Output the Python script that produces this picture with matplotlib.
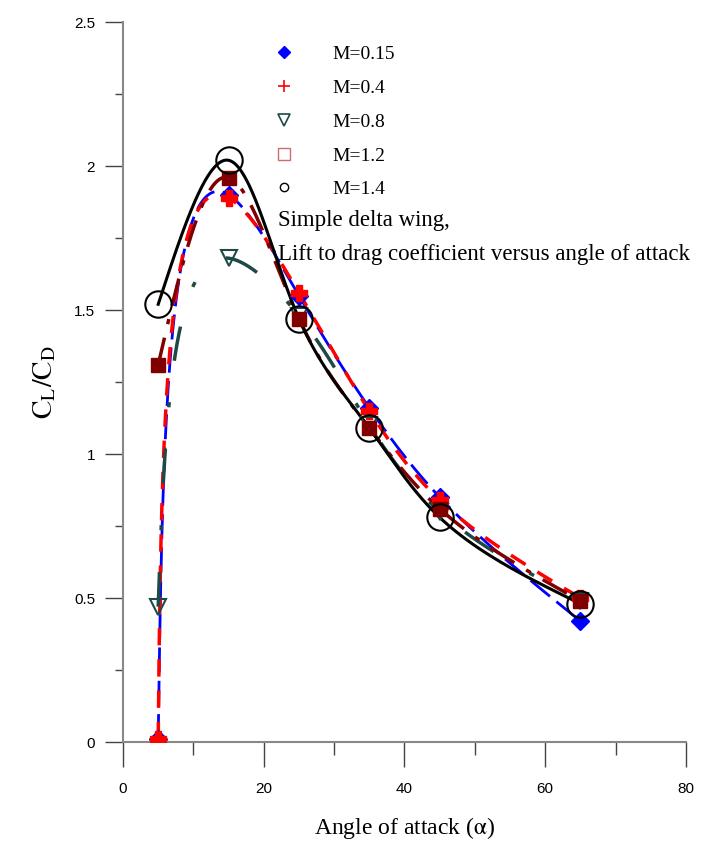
import numpy as np
import matplotlib
matplotlib.use("Agg")
import matplotlib.pyplot as plt
from matplotlib.lines import Line2D
from matplotlib.ticker import MultipleLocator

# Data
# -----------------------------------------------------------------------------

alpha = [5, 15, 25, 35, 45, 65]
mach_labels = ["M=0.15", "M=0.4", "M=0.8", "M=1.2", "M=1.4"]
cl_cd_m015 = [0.01, 1.90, 1.55, 1.16, 0.85, 0.42]
cl_cd_m04 = [0.01, 1.89, 1.56, 1.15, 0.84, 0.50]
cl_cd_m08 = [0.47, 1.68, 1.48, 1.10, 0.80, 0.49]
cl_cd_m12 = [1.31, 1.96, 1.47, 1.09, 0.81, 0.49]
cl_cd_m14 = [1.52, 2.02, 1.47, 1.09, 0.78, 0.48]


# Functions
# -----------------------------------------------------------------------------

def natural_spline(t, y, t_new):
    """Natural cubic spline of y(t), evaluated at t_new."""
    t = np.asarray(t, float)
    y = np.asarray(y, float)
    n = len(t)
    h = np.diff(t)
    a = np.zeros((n, n))
    b = np.zeros(n)
    a[0, 0] = 1.0
    a[-1, -1] = 1.0
    for i in range(1, n-1):
        a[i, i-1] = h[i-1]
        a[i, i] = 2*(h[i-1]+h[i])
        a[i, i+1] = h[i]
        b[i] = 6*((y[i+1]-y[i])/h[i] - (y[i]-y[i-1])/h[i-1])
    m2 = np.linalg.solve(a, b)
    idx = np.clip(np.searchsorted(t, t_new) - 1, 0, n-2)
    t0, t1 = t[idx], t[idx+1]
    hh = t1 - t0
    u0 = t1 - t_new
    u1 = t_new - t0
    return (m2[idx]*u0**3/(6*hh) + m2[idx+1]*u1**3/(6*hh)
            + (y[idx]/hh - m2[idx]*hh/6)*u0
            + (y[idx+1]/hh - m2[idx+1]*hh/6)*u1)


def smooth_curve(x, y):
    # parametric spline in screen-like units
    xs = np.asarray(x, float) / 80.0 * 563
    ys = np.asarray(y, float) / 2.5 * 720
    d = np.hypot(np.diff(xs), np.diff(ys)) ** 0.75
    t = np.concatenate([[0], np.cumsum(d)])
    tt = np.linspace(0, t[-1], 500)
    return natural_spline(t, x, tt), natural_spline(t, y, tt)


# Plot
# -----------------------------------------------------------------------------

plt.rcParams["font.family"] = ["Liberation Serif", "DejaVu Serif"]
plt.rcParams["mathtext.fontset"] = "stix"

fig = plt.figure(figsize=(7.01, 8.48), dpi=100)
ax = fig.add_axes([0.1755, 0.125, 0.803, 0.849])

dark_slate = "#1e4a45"
dark_red = "#800000"

series = [
    (cl_cd_m015, "blue", (0, (9, 3)), 2.0, "D", 9, "blue", "blue", 1),
    (cl_cd_m04, "red", (0, (5, 4)), 2.5, "P", 12, "red", "red", 1),
    (cl_cd_m08, dark_slate, (0, (10, 12, 1.5, 12)), 2.5, "v", 11, "none", dark_slate, 1.5),
    (cl_cd_m12, dark_red, (0, (8, 4, 1.5, 4)), 2.5, "s", 10, dark_red, dark_red, 1),
    (cl_cd_m14, "black", "-", 2.2, "o", 19, "none", "black", 1.5),
]

for vals, col, ls, lw, mk, ms, mfc, mec, mew in series:
    cx, cy = smooth_curve(alpha, vals)
    ax.plot(cx, cy, color=col, linestyle=ls, linewidth=lw, zorder=2)
    ax.plot(alpha, vals, linestyle="none", marker=mk, markersize=ms,
            markerfacecolor=mfc, markeredgecolor=mec, markeredgewidth=mew,
            zorder=3)

handles = [
    Line2D([], [], linestyle="none", marker="D", markersize=6,
           color="blue"),
    Line2D([], [], linestyle="none", marker="+", markersize=9,
           color="red", markeredgewidth=1.2),
    Line2D([], [], linestyle="none", marker="v", markersize=9,
           markerfacecolor="none", markeredgecolor=dark_slate,
           markeredgewidth=1.2),
    Line2D([], [], linestyle="none", marker="s", markersize=9,
           markerfacecolor="none", markeredgecolor="#c87070",
           markeredgewidth=1.0),
    Line2D([], [], linestyle="none", marker="o", markersize=6,
           markerfacecolor="none", markeredgecolor="black",
           markeredgewidth=1.0),
]
ax.legend(handles, mach_labels, loc="upper left",
          bbox_to_anchor=(0.255, 0.978), frameon=False, fontsize=14,
          handlelength=1.0, handletextpad=2.0, labelspacing=0.83,
          borderaxespad=0)

ax.text(0.276, 0.739, "Simple delta wing,\nLift to drag coefficient versus angle of attack",
        transform=ax.transAxes, fontsize=16.5, va="top", ha="left",
        linespacing=1.8)

ax.set_xlim(0, 80)
ax.set_ylim(0, 2.5)
ax.xaxis.set_major_locator(MultipleLocator(20))
ax.xaxis.set_minor_locator(MultipleLocator(10))
ax.yaxis.set_major_locator(MultipleLocator(0.5))
ax.yaxis.set_minor_locator(MultipleLocator(0.25))
ax.set_yticks([0, 0.5, 1, 1.5, 2, 2.5], ["0", "0.5", "1", "1.5", "2", "2.5"])

for side in ["top", "right"]:
    ax.spines[side].set_visible(False)
for side in ["left", "bottom"]:
    ax.spines[side].set_color("#888888")
    ax.spines[side].set_linewidth(1.5)

ax.tick_params(axis="x", which="major", direction="out", length=18,
               width=1.0, color="#444444", pad=11)
ax.tick_params(axis="x", which="minor", direction="out", length=9.5,
               width=1.0, color="#444444")
ax.tick_params(axis="y", which="major", direction="out", length=13,
               width=1.0, color="#444444", pad=7)
ax.tick_params(axis="y", which="minor", direction="out", length=6,
               width=1.0, color="#444444")
for lab in ax.get_xticklabels() + ax.get_yticklabels():
    lab.set_fontfamily("Liberation Sans")
    lab.set_fontsize(11)

ax.set_xlabel(r"Angle of attack ($\mathrm{\alpha}$)", fontsize=17)
ax.xaxis.set_label_coords(0.5, -0.102)
ax.set_ylabel(r"$\mathrm{C_L/C_D}$", fontsize=20)
ax.yaxis.set_label_coords(-0.115, 0.5)

fig.savefig("out.png", dpi=100)
